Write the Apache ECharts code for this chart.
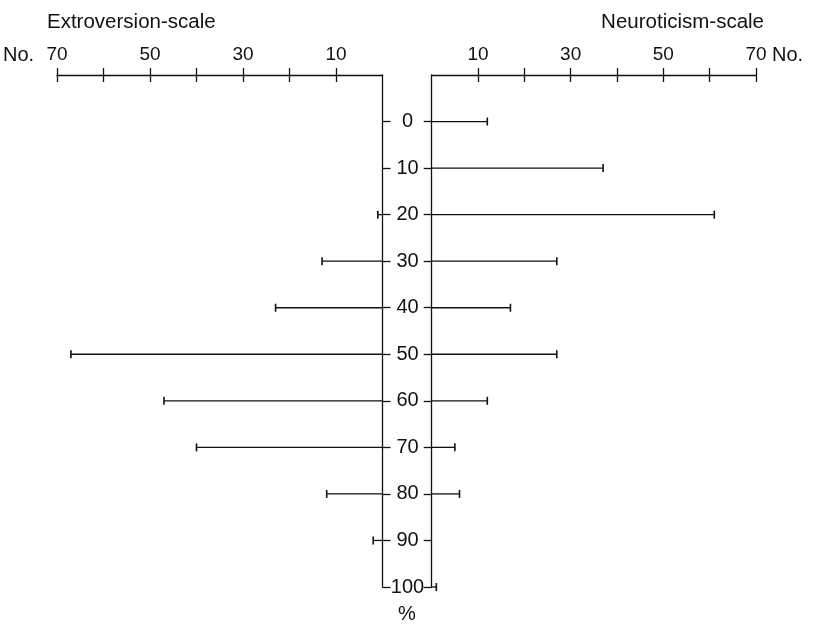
<!DOCTYPE html>
<html>
<head>
<meta charset="utf-8">
<script src="https://cdn.jsdelivr.net/npm/echarts@6/dist/echarts.min.js"></script>
<style>
  html, body { margin: 0; padding: 0; background: #fff; }
  #chart { width: 818px; height: 627px; }
</style>
</head>
<body>
<div id="chart"></div>
<script>
// Percentile rows (vertical scale, %)
const percentiles = [0, 10, 20, 30, 40, 50, 60, 70, 80, 90, 100];
// Number of subjects at each percentile, extroversion scale (drawn to the left)
const extroversion = [0, 0, 1, 13, 23, 67, 47, 40, 12, 2, 0];
// Number of subjects at each percentile, neuroticism scale (drawn to the right)
const neuroticism = [12, 37, 61, 27, 17, 27, 12, 5, 6, 0, 1];
// Tick values and labelled ticks on the "No." scales
const countTicks = [10, 20, 30, 40, 50, 60, 70];
const countLabels = [10, 30, 50, 70];

const INK = '#111';
const FONT = '"Liberation Sans", Arial, Helvetica, sans-serif';

// Horizontal line from zero to the value, closed by a short end cap
function renderBar(params, api) {
  const v = api.value(0);
  const p = api.value(1);
  if (!v) return null;
  const a = api.coord([0, p]);
  const b = api.coord([v, p]);
  return {
    type: 'group',
    children: [
      { type: 'line', shape: { x1: a[0], y1: a[1], x2: b[0], y2: b[1] },
        style: { stroke: INK, lineWidth: 1.3 } },
      { type: 'line', shape: { x1: b[0], y1: b[1] - 4, x2: b[0], y2: b[1] + 4 },
        style: { stroke: INK, lineWidth: 1.6 } }
    ]
  };
}

// Count scale along the top; drawn twice so the ticks cross the line
function countAxis(gridIndex, inverse, withLabels, inside) {
  return {
    type: 'value', gridIndex, inverse, position: 'top', min: 0, max: 70,
    axisLine: { show: withLabels, onZero: false, lineStyle: { color: INK, width: 1.3 } },
    axisTick: { show: true, inside, length: 7, customValues: countTicks,
                lineStyle: { color: INK, width: 1.3 } },
    axisLabel: { show: withLabels, customValues: countLabels, margin: 11,
                 color: INK, fontSize: 19, fontFamily: FONT },
    splitLine: { show: false }
  };
}

function percentAxis(gridIndex, position, withLabels) {
  return {
    type: 'value', gridIndex, position, inverse: true, min: -10, max: 100,
    axisLine: { show: true, onZero: false, lineStyle: { color: INK, width: 1.3 } },
    axisTick: { show: true, length: 8, customValues: percentiles,
                lineStyle: { color: INK, width: 1.3 } },
    axisLabel: { show: withLabels, customValues: percentiles, align: 'center',
                 margin: 25, color: INK, fontSize: 20, fontFamily: FONT },
    splitLine: { show: false }
  };
}

const chart = echarts.init(document.getElementById('chart'), null, { renderer: 'canvas' });
chart.setOption({
  animation: false,
  backgroundColor: '#fff',
  grid: [
    { left: 57, right: 818 - 382.5, top: 75, bottom: 40 },
    { left: 431.7, right: 818 - 756, top: 75, bottom: 40 }
  ],
  xAxis: [
    countAxis(0, true, true, false),
    countAxis(0, true, false, true),
    countAxis(1, false, true, false),
    countAxis(1, false, false, true)
  ],
  yAxis: [
    percentAxis(0, 'right', true),
    percentAxis(1, 'left', false)
  ],
  series: [
    {
      name: 'Extroversion', type: 'custom', xAxisIndex: 0, yAxisIndex: 0,
      renderItem: renderBar,
      data: percentiles.map((p, i) => [extroversion[i], p])
    },
    {
      name: 'Neuroticism', type: 'custom', xAxisIndex: 2, yAxisIndex: 1,
      renderItem: renderBar,
      data: percentiles.map((p, i) => [neuroticism[i], p])
    }
  ],
  graphic: [
    { type: 'text', left: 47, top: 12,
      style: { text: 'Extroversion-scale', fill: INK, fontSize: 20.5, fontFamily: FONT } },
    { type: 'text', right: 54, top: 12,
      style: { text: 'Neuroticism-scale', fill: INK, fontSize: 20.5, fontFamily: FONT } },
    { type: 'text', left: 3, top: 45,
      style: { text: 'No.', fill: INK, fontSize: 20, fontFamily: FONT } },
    { type: 'text', left: 772, top: 45,
      style: { text: 'No.', fill: INK, fontSize: 20, fontFamily: FONT } },
    { type: 'text', left: 398, top: 604,
      style: { text: '%', fill: INK, fontSize: 20, fontFamily: FONT } }
  ]
});
</script>
</body>
</html>
